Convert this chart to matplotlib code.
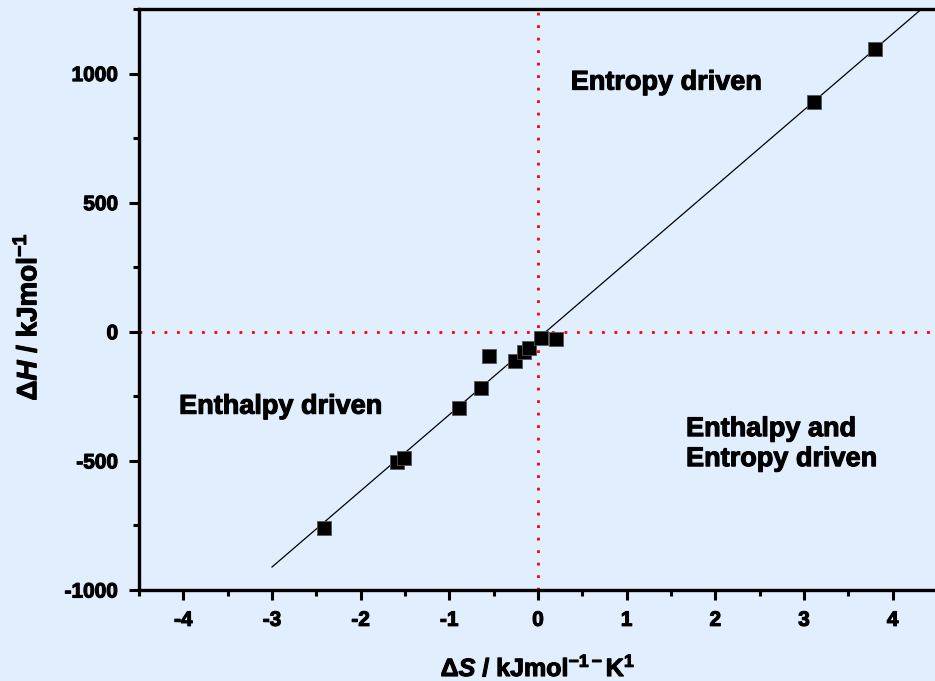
import matplotlib
matplotlib.use('Agg')
import matplotlib.pyplot as plt
import matplotlib.patheffects as pe
import numpy as np

plt.rcParams['font.family'] = ['Liberation Sans', 'DejaVu Sans']
plt.rcParams['font.weight'] = 'bold'
plt.rcParams['axes.labelweight'] = 'bold'
plt.rcParams['axes.unicode_minus'] = False
plt.rcParams['mathtext.fontset'] = 'custom'
plt.rcParams['mathtext.rm'] = 'Liberation Sans:bold'
plt.rcParams['mathtext.it'] = 'Liberation Sans:bold:italic'
plt.rcParams['mathtext.bf'] = 'Liberation Sans:bold'
plt.rcParams['mathtext.default'] = 'rm'

# data
dS = [-2.41, -1.59, -1.51, -0.89, -0.64, -0.55, -0.26, -0.16, -0.10, 0.03, 0.20, 3.11, 3.80]
dH = [-760, -504, -488, -295, -217, -93, -112, -78, -62, -23, -27, 888, 1097]
fit_slope = 295.0
fit_icpt = -26.0
fit_x = [-3.0, 4.6]

bg = '#e1eefd'
thick = [pe.withStroke(linewidth=0.8, foreground='black')]

fig = plt.figure(figsize=(9.35, 6.81), dpi=100, facecolor=bg)
ax = fig.add_axes([139/935, 1 - 590/681, (937 - 139)/935, (590 - 9)/681])
ax.set_facecolor(bg)

fx = np.array(fit_x)
ax.plot(fx, fit_slope*fx + fit_icpt, color='black', lw=0.9, zorder=2)
ax.axhline(0, color='red', ls=(0, (1, 3.5)), lw=2, zorder=1)
ax.axvline(0, color='red', ls=(0, (1, 3.5)), lw=2, zorder=1)
ax.scatter(dS, dH, marker='s', s=110, c='black', edgecolors='#555555', linewidths=0.6, zorder=3)

ax.set_xlim(-4.5, 4.5)
ax.set_ylim(-1000, 1250)
ax.set_xticks(range(-4, 5))
ax.set_xticks(np.arange(-4.5, 4.6, 0.5), minor=True)
ax.set_yticks([-1000, -500, 0, 500, 1000])
ax.set_yticks(np.arange(-1000, 1251, 250), minor=True)
ax.tick_params(which='major', direction='out', length=7, width=2.2, labelsize=15, pad=8)
ax.tick_params(which='minor', direction='out', length=4, width=2.2)
for lab in ax.get_xticklabels() + ax.get_yticklabels():
    lab.set_fontweight('bold')
    lab.set_path_effects(thick)
for s in ['left', 'bottom', 'top']:
    ax.spines[s].set_linewidth(2.4)
ax.spines['right'].set_visible(False)

ax.set_xlabel('Δ$\\mathit{S}$ / kJmol$^{-1-}$K$^{1}$', fontsize=18, labelpad=18,
              path_effects=thick)
ax.set_ylabel('Δ$\\mathit{H}$ / kJmol$^{-1}$', fontsize=20, labelpad=16,
              path_effects=thick)
ax.yaxis.set_label_coords(-0.121, 0.47)

ax.text(1.45, 965, 'Entropy driven', fontsize=19.5, ha='center', va='center',
        path_effects=thick)
ax.text(-2.9, -290, 'Enthalpy driven', fontsize=19.5, ha='center', va='center',
        path_effects=thick)
ax.text(1.67, -435, 'Enthalpy and\nEntropy driven', fontsize=19.5, ha='left', va='center',
        linespacing=1.2, path_effects=thick)

fig.savefig('out.png', dpi=100, facecolor=bg)
